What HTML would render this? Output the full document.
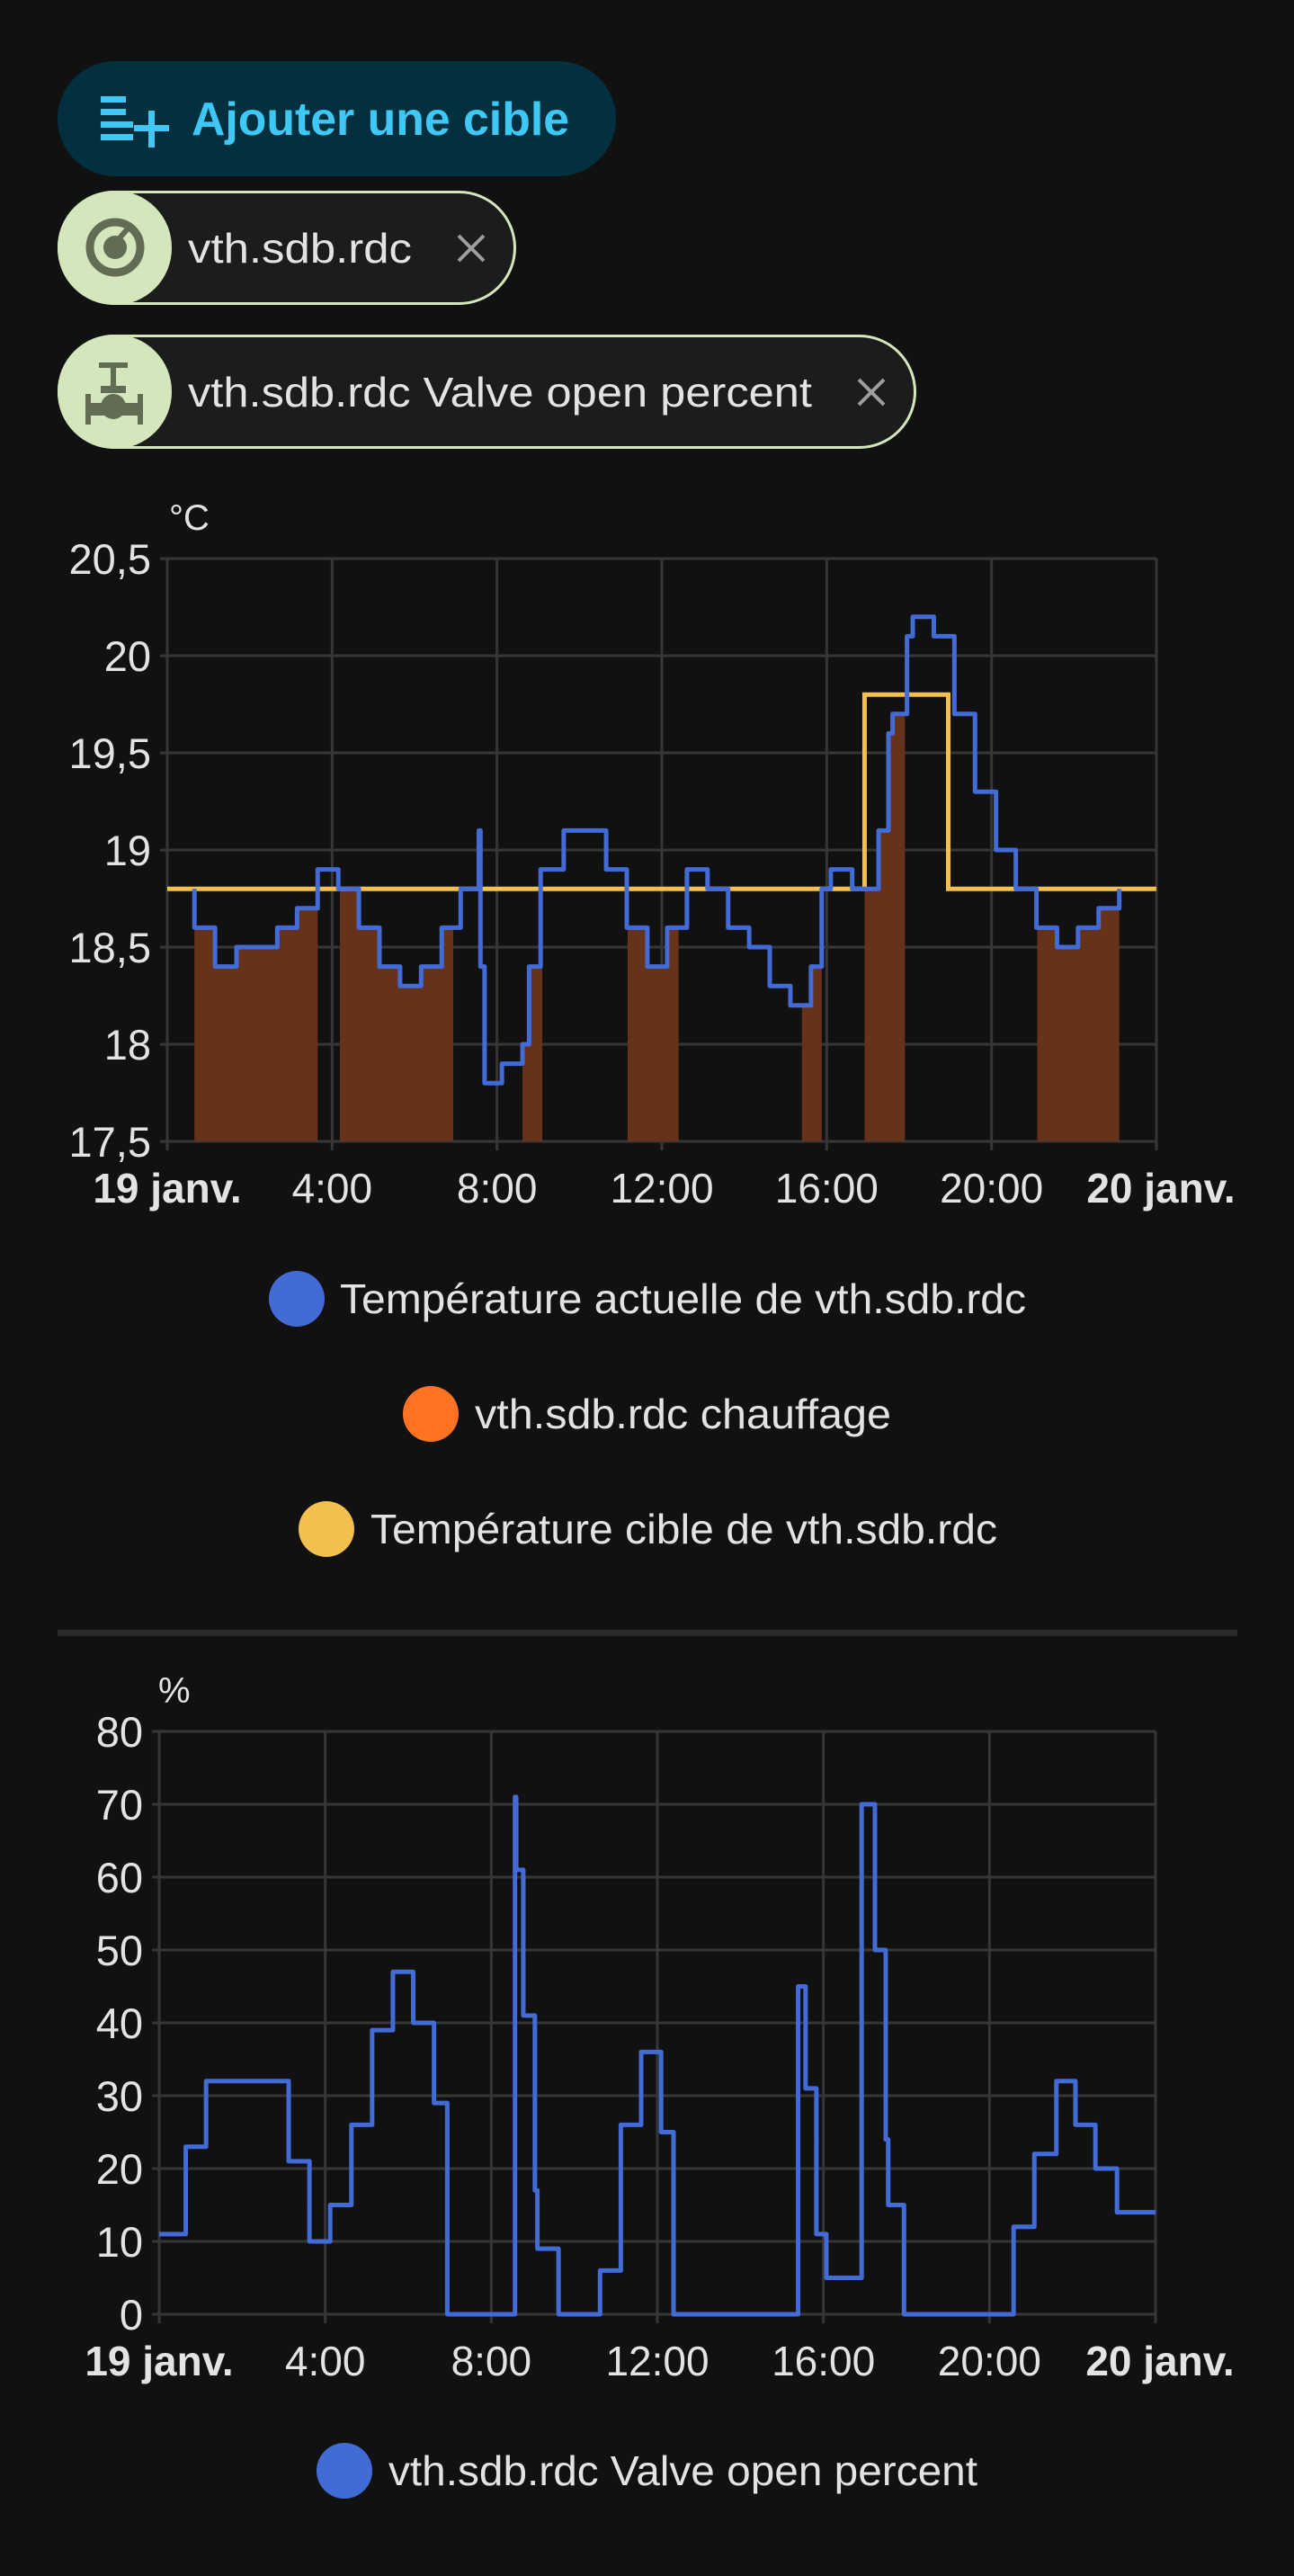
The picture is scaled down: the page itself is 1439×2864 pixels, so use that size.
<!DOCTYPE html>
<html><head><meta charset="utf-8"><style>
html,body{margin:0;padding:0;background:#111111;}
body{width:1439px;height:2859px;overflow:hidden;font-family:"Liberation Sans",sans-serif;}
svg text{font-family:"Liberation Sans",sans-serif;}
</style></head><body>
<svg id="s" width="1439" height="2859" viewBox="0 0 1439 2859" xmlns="http://www.w3.org/2000/svg">
<rect width="1439" height="2859" fill="#111111"/>
<!-- button -->
<rect x="64" y="68" width="621" height="128" rx="64" fill="#02303f"/>
<g fill="#3fc8f5">
<rect x="112" y="107" width="28" height="7"/><rect x="112" y="121" width="28" height="7"/><rect x="112" y="135" width="36" height="7"/><rect x="112" y="149" width="36" height="7"/>
<rect x="149" y="139" width="39" height="7"/><rect x="165" y="123" width="7" height="41"/>
</g>
<text x="213" y="150" font-size="52" font-weight="bold" fill="#3fc8f5" textLength="420" lengthAdjust="spacingAndGlyphs">Ajouter une cible</text>
<!-- chip 1 -->
<rect x="65.5" y="213.5" width="507" height="124" rx="62" fill="#1c1c1c" stroke="#d4e7bc" stroke-width="3"/>
<rect x="64" y="212" width="127" height="127" rx="63" fill="#d4e7bc"/>
<circle cx="128" cy="275" r="28" fill="none" stroke="#626c54" stroke-width="9"/>
<circle cx="128" cy="275" r="13" fill="#626c54"/>
<path d="M130 268 L144 252" stroke="#626c54" stroke-width="6"/>
<text x="209" y="292" font-size="46" fill="#e3e3e3" textLength="249" lengthAdjust="spacingAndGlyphs">vth.sdb.rdc</text>
<path d="M510 262 L538 290 M538 262 L510 290" stroke="#9e9e9e" stroke-width="4"/>
<!-- chip 2 -->
<rect x="65.5" y="373.5" width="952" height="124" rx="62" fill="#1c1c1c" stroke="#d4e7bc" stroke-width="3"/>
<rect x="64" y="372" width="127" height="127" rx="63" fill="#d4e7bc"/>
<g fill="#626c54">
<rect x="110" y="403" width="32" height="6"/><rect x="123" y="405" width="6" height="24"/>
<rect x="112" y="429" width="28" height="8"/><circle cx="126" cy="452" r="14"/>
<rect x="97" y="448" width="60" height="14"/><rect x="95" y="438" width="6" height="34"/><rect x="153" y="438" width="6" height="34"/>
</g>
<text x="209" y="452" font-size="46" fill="#e3e3e3" textLength="694" lengthAdjust="spacingAndGlyphs">vth.sdb.rdc Valve open percent</text>
<path d="M955 422 L983 450 M983 422 L955 450" stroke="#9e9e9e" stroke-width="4"/>

<g id="c1"></g>
<!-- legend 1 -->
<circle cx="330" cy="1444" r="31" fill="#436bd6"/>
<text x="378" y="1460" font-size="46" fill="#e3e3e3" textLength="763" lengthAdjust="spacingAndGlyphs">Température actuelle de vth.sdb.rdc</text>
<circle cx="479" cy="1572" r="31" fill="#fd7322"/>
<text x="528" y="1588" font-size="46" fill="#e3e3e3" textLength="463" lengthAdjust="spacingAndGlyphs">vth.sdb.rdc chauffage</text>
<circle cx="363" cy="1700" r="31" fill="#f3bf4d"/>
<text x="412" y="1716" font-size="46" fill="#e3e3e3" textLength="697" lengthAdjust="spacingAndGlyphs">Température cible de vth.sdb.rdc</text>
<rect x="64" y="1812" width="1312" height="7" fill="#2b2b2b"/>
<g id="c2"></g>
<circle cx="383" cy="2747" r="31" fill="#436bd6"/>
<text x="432" y="2763" font-size="46" fill="#e3e3e3" textLength="655" lengthAdjust="spacingAndGlyphs">vth.sdb.rdc Valve open percent</text>
</svg>
<script>
var NS="http://www.w3.org/2000/svg";
function el(p,t,a,txt){var e=document.createElementNS(NS,t);for(var k in a)e.setAttribute(k,a[k]);if(txt!==undefined)e.textContent=txt;p.appendChild(e);return e;}
function chart(g,x0,x1,y0,y1,ticks,unit,unitX){
  var xs=[];for(var i=0;i<=6;i++)xs.push(x0+(x1-x0)*i/6);
  ticks.forEach(function(t){el(g,'line',{x1:x0-8,x2:x1,y1:t[1],y2:t[1],stroke:'#363636','stroke-width':3});
    el(g,'text',{x:x0-18,y:t[1]+17,'font-size':47,fill:'#e3e3e3','text-anchor':'end'},t[0]);});
  xs.forEach(function(x){el(g,'line',{x1:x,x2:x,y1:y0,y2:y1+10,stroke:'#363636','stroke-width':3});});
  var labs=['19 janv.','4:00','8:00','12:00','16:00','20:00','20 janv.'];
  xs.forEach(function(x,i){var b=(i==0||i==6);var xx=x; if(i==6)xx=x+5;
    el(g,'text',{x:xx,y:y1+68,'font-size':46,fill:'#e3e3e3','text-anchor':'middle','font-weight':b?'bold':'normal'},labs[i]);});
  el(g,'text',{x:unitX,y:y0-32,'font-size':40,fill:'#e3e3e3'},unit);
}
var g1=document.getElementById('c1');
var X1=function(h){return 186+h*45.83;}, Y1=function(v){return 1269-(v-17.5)*216;};
chart(g1,186,1286,621,1269,[['20,5',Y1(20.5)],['20',Y1(20)],['19,5',Y1(19.5)],['19',Y1(19)],['18,5',Y1(18.5)],['18',Y1(18)],['17,5',Y1(17.5)]],'°C',188);
var T=[[0.66,18.6],[1.16,18.4],[1.68,18.5],[2.67,18.6],[3.15,18.7],[3.65,18.9],[4.15,18.8],[4.65,18.6],[5.15,18.4],[5.65,18.3],[6.16,18.4],[6.66,18.6],[7.12,18.8],[7.56,19.1],[7.6,18.4],[7.7,17.8],[8.12,17.9],[8.62,18.0],[8.78,18.4],[9.06,18.9],[9.62,19.1],[10.65,18.9],[11.15,18.6],[11.65,18.4],[12.13,18.6],[12.61,18.9],[13.11,18.8],[13.61,18.6],[14.12,18.5],[14.62,18.3],[15.12,18.2],[15.62,18.4],[15.88,18.8],[16.1,18.9],[16.62,18.8],[17.26,19.1],[17.5,19.6],[17.6,19.7],[17.95,20.1],[18.09,20.2],[18.6,20.1],[19.1,19.7],[19.6,19.3],[20.11,19.0],[20.59,18.8],[21.09,18.6],[21.59,18.5],[22.1,18.6],[22.6,18.7],[23.1,18.8]];
function tempAt(h){var v=18.8;for(var i=0;i<T.length;i++){if(T[i][0]<=h+1e-9)v=T[i][1];}return v;}
var F=[[0.66,3.65],[4.19,6.94],[8.62,9.1],[11.17,12.41],[15.4,15.88],[16.92,17.9],[21.11,23.1]];
F.forEach(function(f){var a=f[0],b=f[1];var d='M'+X1(a)+' '+Y1(17.5)+' V'+Y1(tempAt(a));
  T.forEach(function(s){if(s[0]>a&&s[0]<b){d+=' H'+X1(s[0])+' V'+Y1(s[1]);}});
  d+=' H'+X1(b)+' V'+Y1(17.5)+'Z';el(g1,'path',{d:d,fill:'#66331a'});});
var d='M'+X1(0.66)+' '+Y1(18.8);T.forEach(function(s){d+=' H'+X1(s[0])+' V'+Y1(s[1]);});
el(g1,'path',{d:'M'+X1(0)+' '+Y1(18.8)+' H'+X1(16.92)+' V'+Y1(19.8)+' H'+X1(18.95)+' V'+Y1(18.8)+' H'+X1(24),fill:'none',stroke:'#f3bf4d','stroke-width':5});
el(g1,'path',{d:d,fill:'none',stroke:'#436bd6','stroke-width':5,'stroke-linejoin':'round'});
var g2=document.getElementById('c2');
var X2=function(h){return 177+h*46.17;}, Y2=function(p){return 2573-p*8.1;};
var tk=[];for(var p=80;p>=0;p-=10)tk.push([''+p,Y2(p)]);
chart(g2,177,1285,1925,2573,tk,'%',176);
var V=[[0,11],[0.64,23],[1.13,32],[3.12,21],[3.62,10],[4.12,15],[4.63,26],[5.13,39],[5.63,47],[6.12,40],[6.62,29],[6.94,0],[8.57,71],[8.6,61],[8.77,41],[9.05,17],[9.11,9],[9.62,0],[10.62,6],[11.12,26],[11.61,36],[12.09,25],[12.39,0],[15.39,45],[15.57,31],[15.83,11],[16.07,5],[16.92,70],[17.24,50],[17.5,24],[17.56,15],[17.94,0],[20.58,12],[21.08,22],[21.61,32],[22.07,26],[22.55,20],[23.07,14]];
var d2='M'+X2(0)+' '+Y2(11);V.forEach(function(s){d2+=' H'+X2(s[0])+' V'+Y2(s[1]);});d2+=' H'+X2(24);
el(g2,'path',{d:d2,fill:'none',stroke:'#436bd6','stroke-width':5,'stroke-linejoin':'round'});
</script>
</body></html>
